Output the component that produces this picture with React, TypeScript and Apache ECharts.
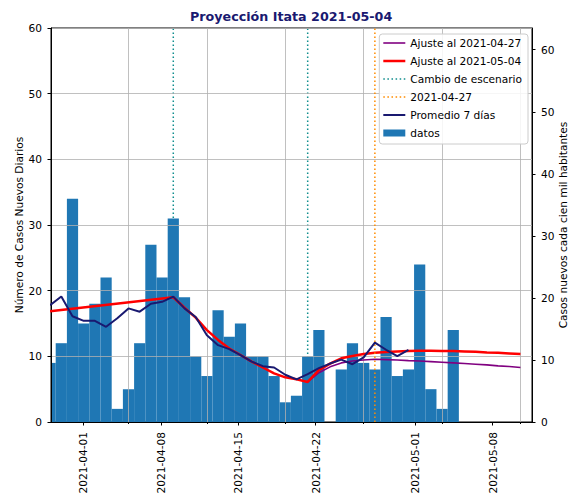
import React, { useEffect, useRef } from 'react';
import * as echarts from 'echarts';

// Day 0 = 2021-03-29
const fechaInicio = '2021-03-29';

// Daily new cases, one per day starting 2021-03-29
const casosDiarios = [9, 12, 34, 15, 18, 22, 2, 5, 12, 27, 22, 31, 19, 10, 7, 17, 13, 15, 10, 10, 7, 3, 4, 10, 14, 0, 8, 12, 9, 8, 16, 7, 8, 24, 5, 2, 14];

// 7-day average, one per day starting 2021-03-29
const promedio7Dias = [17.8, 19.1, 16.1, 15.4, 15.4, 14.5, 15.8, 17.3, 16.8, 18.0, 18.3, 19.1, 17.3, 16.0, 13.2, 11.7, 11.1, 10.2, 9.2, 8.5, 8.3, 7.2, 6.5, 7.3, 8.2, 8.9, 9.5, 8.8, 9.85, 12.1, 11.0, 10.05, 11.0];

// Fit as of 2021-05-04 (day offsets and values)
const ajuste0504Dias = [0, 11, 12, 13, 14, 15, 16, 17, 18, 19, 20, 21, 22, 23, 24, 25, 26, 27, 28, 29, 30, 31, 32, 33, 34, 35, 36, 37, 38, 39, 40, 41, 42];
const ajuste0504Valores = [16.85, 19.0, 17.4, 15.9, 14.0, 12.5, 11.2, 10.2, 9.2, 8.3, 7.4, 6.8, 6.5, 6.1, 7.9, 8.9, 9.7, 10.05, 10.35, 10.55, 10.65, 10.75, 10.8, 10.85, 10.85, 10.83, 10.8, 10.75, 10.7, 10.6, 10.55, 10.45, 10.35];

// Fit as of 2021-04-27
const ajuste0427Dias = [23, 24, 25, 26, 27, 28, 29, 30, 31, 32, 33, 34, 35, 36, 37, 38, 39, 40, 41, 42];
const ajuste0427Valores = [6.1, 7.5, 8.4, 9.0, 9.3, 9.45, 9.55, 9.5, 9.45, 9.35, 9.3, 9.2, 9.1, 9.0, 8.9, 8.8, 8.7, 8.55, 8.45, 8.3];

const cambioEscenario = ['2021-04-09', '2021-04-21'];
const fechaAjusteAnterior = '2021-04-27';
const etiquetasFecha = ['2021-04-01', '2021-04-08', '2021-04-15', '2021-04-22', '2021-05-01', '2021-05-08'];
const lineasGrilla = ['2021-04-05', '2021-04-12', '2021-04-19', '2021-04-26', '2021-05-03', '2021-05-10'];
const ticksDerecha = [0, 10, 20, 30, 40, 50, 60];

const DAY = 86400000;
const dia = (s: string) => Math.round((Date.parse(s) - Date.parse(fechaInicio)) / DAY);
const fechaDe = (d: number) => new Date(Date.parse(fechaInicio) + Math.round(d) * DAY).toISOString().slice(0, 10);

const FONT = '"DejaVu Sans", sans-serif';
const FS = 10.6;

// legend glyphs: solid bar of a given thickness, or a row of dots
const iconoLinea = (w: number) => `path://M0,0h22v${w}h-22z`;
const iconoPuntos = () => {
  let d = '';
  for (let x = 0; x < 22; x += 4) d += `M${x},0h1.5v1.5h-1.5z`;
  return 'path://' + d;
};

export default function App() {
  const ref = useRef<HTMLDivElement>(null);
  useEffect(() => {
    if (!ref.current) return;
    const chart = echarts.init(ref.current, undefined, { renderer: 'svg' });
    const tickDias = etiquetasFecha.map(dia);
    const grillaDias = lineasGrilla.map(dia);

    const vline = (d: number) => [[d, 0], [d, 60]];
    const teal = '#108e8e';
    const orange = '#ff8c00';

    const option: any = {
      animation: false,
      textStyle: { fontFamily: FONT },
      title: {
        text: 'Proyección Itata 2021-05-04',
        left: 190,
        top: 10,
        padding: 0,
        textStyle: { fontFamily: FONT, fontSize: 12.7, fontWeight: 'bold', color: '#191970' },
      },
      grid: {
        left: 51, right: 38, top: 28, bottom: 79,
        outerBoundsMode: 'none',
        containLabel: false,
        show: true, borderColor: '#000', borderWidth: 1, backgroundColor: 'transparent',
      },
      legend: {
        orient: 'vertical',
        right: 42,
        top: 34,
        z: 10,
        backgroundColor: 'rgba(255,255,255,0.85)',
        borderColor: '#cccccc',
        borderWidth: 1,
        borderRadius: 3,
        padding: [3, 6, 5, 4],
        itemWidth: 22,
        itemHeight: 7,
        itemGap: 6,
        symbolKeepAspect: true,
        textStyle: { fontFamily: FONT, fontSize: FS, color: '#000', lineHeight: 12 },
        data: [
          { name: 'Ajuste al 2021-04-27', icon: iconoLinea(1.6) },
          { name: 'Ajuste al 2021-05-04', icon: iconoLinea(2.5) },
          { name: 'Cambio de escenario', icon: iconoPuntos() },
          { name: '2021-04-27', icon: iconoPuntos() },
          { name: 'Promedio 7 días', icon: iconoLinea(2) },
          { name: 'datos', icon: 'rect' },
        ],
      },
      xAxis: [
        {
          type: 'value',
          position: 'bottom',
          min: 0.08,
          max: 43.03,
          z: 3,
          axisLine: { show: true, lineStyle: { color: '#000', width: 1 } },
          axisTick: { show: true, customValues: grillaDias, length: 2, lineStyle: { color: '#000' } },
          axisLabel: { show: false },
          splitLine: { show: true, lineStyle: { color: '#b0b0b0', width: 0.8 } },
        },
        {
          type: 'value',
          position: 'bottom',
          min: 0.08,
          max: 43.55,
          z: 3,
          axisLine: { show: false },
          axisTick: { show: true, customValues: tickDias, length: 3.5, lineStyle: { color: '#000' } },
          axisLabel: {
            show: true,
            customValues: tickDias,
            rotate: 90,
            margin: 10,
            fontFamily: FONT,
            fontSize: FS,
            color: '#000',
            formatter: (v: number) => fechaDe(v),
          },
          splitLine: { show: false },
        },
      ],
      yAxis: [
        {
          type: 'value',
          position: 'left',
          min: 0,
          max: 60,
          interval: 10,
          z: 3,
          name: 'Número de Casos Nuevos Diarios',
          nameLocation: 'middle',
          nameRotate: 90,
          nameGap: 27,
          nameMoveOverlap: false,
          nameTextStyle: { fontFamily: FONT, fontSize: FS, color: '#000' },
          axisLine: { show: true, lineStyle: { color: '#000', width: 1 } },
          axisTick: { show: true, length: 3.5, lineStyle: { color: '#000' } },
          axisLabel: { fontFamily: FONT, fontSize: FS, color: '#000', margin: 9 },
          splitLine: { show: true, lineStyle: { color: '#b0b0b0', width: 0.8 } },
        },
        {
          type: 'value',
          position: 'right',
          min: 0,
          max: 63.5,
          z: 3,
          name: 'Casos nuevos cada cien mil habitantes',
          nameLocation: 'middle',
          nameRotate: 90,
          nameGap: 25,
          nameMoveOverlap: false,
          nameTextStyle: { fontFamily: FONT, fontSize: FS, color: '#000' },
          axisLine: { show: true, lineStyle: { color: '#000', width: 1 } },
          axisTick: { show: true, customValues: ticksDerecha, length: 3.5, lineStyle: { color: '#000' } },
          axisLabel: { customValues: ticksDerecha, fontFamily: FONT, fontSize: FS, color: '#000', margin: 9 },
          splitLine: { show: false },
        },
      ],
      series: [
        ...cambioEscenario.map((f) => ({
          name: 'Cambio de escenario',
          type: 'line',
          xAxisIndex: 0,
          yAxisIndex: 0,
          data: vline(dia(f)),
          symbol: 'none',
          silent: true,
          z: 1,
          itemStyle: { color: teal },
          lineStyle: { color: teal, width: 1.5, type: [1.5, 2.5] },
        })),
        {
          name: 'datos',
          type: 'custom',
          xAxisIndex: 0,
          yAxisIndex: 0,
          z: 2,
          itemStyle: { color: '#1f77b4' },
          encode: { x: 0, y: 1 },
          data: casosDiarios.map((v, i) => [i, v]),
          renderItem: (params: any, api: any) => {
            const d = api.value(0);
            const v = api.value(1);
            const p0 = api.coord([d - 0.5, v]);
            const p1 = api.coord([d + 0.5, 0]);
            const cs = params.coordSys;
            const rect = echarts.graphic.clipRectByRect(
              { x: p0[0], y: p0[1], width: p1[0] - p0[0], height: p1[1] - p0[1] },
              { x: cs.x, y: cs.y, width: cs.width, height: cs.height }
            );
            if (!rect) return null;
            return { type: 'rect', shape: rect, style: { fill: '#1f77b4' } };
          },
        },
        {
          name: 'Ajuste al 2021-04-27',
          type: 'line',
          xAxisIndex: 0,
          yAxisIndex: 0,
          data: ajuste0427Dias.map((d, i) => [d, ajuste0427Valores[i]]),
          symbol: 'none',
          z: 4,
          itemStyle: { color: '#800080' },
          lineStyle: { color: '#800080', width: 1.6 },
        },
        {
          name: 'Ajuste al 2021-05-04',
          type: 'line',
          xAxisIndex: 0,
          yAxisIndex: 0,
          data: ajuste0504Dias.map((d, i) => [d, ajuste0504Valores[i]]),
          symbol: 'none',
          z: 4,
          itemStyle: { color: '#ff0000' },
          lineStyle: { color: '#ff0000', width: 2.5 },
        },
        {
          name: '2021-04-27',
          type: 'line',
          xAxisIndex: 0,
          yAxisIndex: 0,
          data: vline(dia(fechaAjusteAnterior)),
          symbol: 'none',
          silent: true,
          z: 4,
          itemStyle: { color: orange },
          lineStyle: { color: orange, width: 1.5, type: [1.5, 2.5] },
        },
        {
          name: 'Promedio 7 días',
          type: 'line',
          xAxisIndex: 0,
          yAxisIndex: 0,
          data: promedio7Dias.map((v, i) => [i, v]),
          symbol: 'none',
          z: 5,
          itemStyle: { color: '#191970' },
          lineStyle: { color: '#191970', width: 2 },
        },
      ],
    };
    chart.setOption(option);
    return () => chart.dispose();
  }, []);
  return <div ref={ref} style={{ position: 'absolute', left: 0, top: 0, width: 570, height: 501 }} />;
}
